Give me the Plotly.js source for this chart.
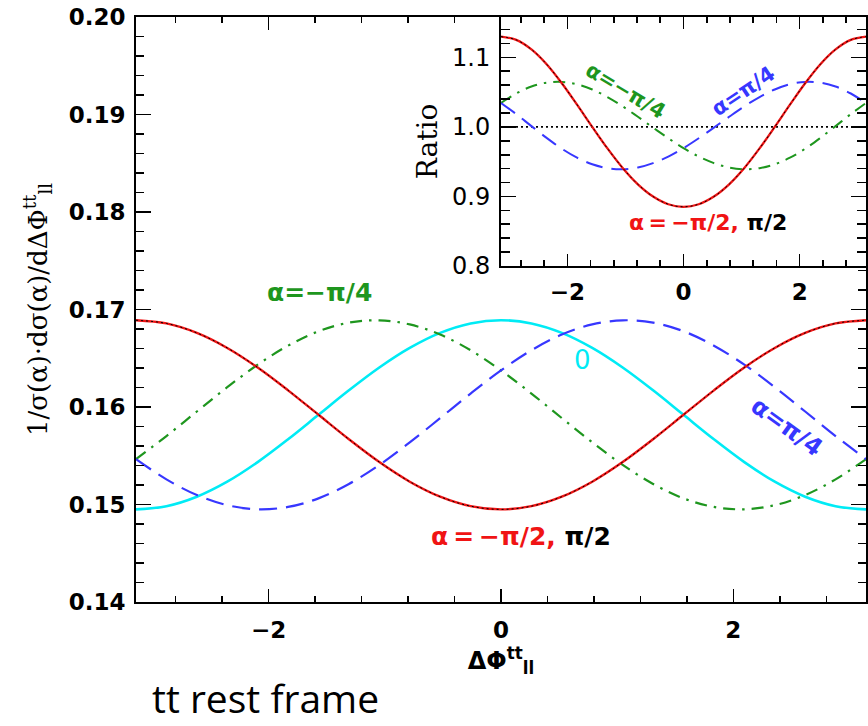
<!DOCTYPE html>
<html>
<head>
<meta charset="utf-8">
<script src="https://cdn.plot.ly/plotly-3.0.1.min.js"></script>
<style>html,body{margin:0;padding:0;background:#fff}</style>
</head>
<body>
<div id="chart" style="width:868px;height:726px"></div>
<script>
// Δφ values (radians) at which the curves were read
const dphi = [-3.1416,-2.8798,-2.6180,-2.3562,-2.0944,-1.8326,-1.5708,-1.3090,-1.0472,-0.7854,-0.5236,-0.2618,0,
              0.2618,0.5236,0.7854,1.0472,1.3090,1.5708,1.8326,2.0944,2.3562,2.6180,2.8798,3.1416];

// main panel: 1/σ dσ/dΔΦ
const alphaMinusPiHalf = [0.1689,0.16857,0.1676,0.16606,0.16405,0.16171,0.1592,0.15669,0.15435,0.15234,0.1508,0.14983,0.1495,
                          0.14983,0.1508,0.15234,0.15435,0.15669,0.1592,0.16171,0.16405,0.16606,0.1676,0.16857,0.1689];
const alphaPiHalf      = [0.1689,0.16857,0.1676,0.16606,0.16405,0.16171,0.1592,0.15669,0.15435,0.15234,0.1508,0.14983,0.1495,
                          0.14983,0.1508,0.15234,0.15435,0.15669,0.1592,0.16171,0.16405,0.16606,0.1676,0.16857,0.1689];
const alphaZero        = [0.1495,0.14983,0.1508,0.15234,0.15435,0.15669,0.1592,0.16171,0.16405,0.16606,0.1676,0.16857,0.1689,
                          0.16857,0.1676,0.16606,0.16405,0.16171,0.1592,0.15669,0.15435,0.15234,0.1508,0.14983,0.1495];
const alphaMinusPiQuarter = [0.15465,0.15702,0.15954,0.16203,0.16434,0.16629,0.16777,0.16865,0.16889,0.16847,0.16743,0.16582,0.16375,
                             0.16138,0.15886,0.15637,0.15406,0.15211,0.15063,0.14975,0.14951,0.14993,0.15097,0.15258,0.15465];
const alphaPiQuarter      = [0.15465,0.15258,0.15097,0.14993,0.14951,0.14975,0.15063,0.15211,0.15406,0.15637,0.15886,0.16138,0.16375,
                             0.16582,0.16743,0.16847,0.16889,0.16865,0.16777,0.16629,0.16434,0.16203,0.15954,0.15702,0.15465];

// inset: ratio to α = 0
const ratioMinusPiHalf = [1.1298,1.1251,1.1114,1.0901,1.0628,1.0320,1.0,0.9690,0.9409,0.9174,0.8998,0.8888,0.8851,
                          0.8888,0.8998,0.9174,0.9409,0.9690,1.0,1.0320,1.0628,1.0901,1.1114,1.1251,1.1298];
const ratioPiHalf      = [1.1298,1.1251,1.1114,1.0901,1.0628,1.0320,1.0,0.9690,0.9409,0.9174,0.8998,0.8888,0.8851,
                          0.8888,0.8998,0.9174,0.9409,0.9690,1.0,1.0320,1.0628,1.0901,1.1114,1.1251,1.1298];
const ratioMinusPiQuarter = [1.0344,1.0480,1.0580,1.0636,1.0647,1.0613,1.0538,1.0429,1.0295,1.0145,0.9990,0.9837,0.9695,
                             0.9573,0.9479,0.9416,0.9391,0.9406,0.9462,0.9557,0.9686,0.9842,1.0011,1.0184,1.0344];
const ratioPiQuarter      = [1.0344,1.0184,1.0011,0.9842,0.9686,0.9557,0.9462,0.9406,0.9391,0.9416,0.9479,0.9573,0.9695,
                             0.9837,0.9990,1.0145,1.0295,1.0429,1.0538,1.0613,1.0647,1.0636,1.0580,1.0480,1.0344];
const unityX = [-3.1416, 3.1416];
const unityY = [1.0, 1.0];

const RED = 'rgb(240,20,20)', CYAN = 'rgb(0,235,245)', GREEN = 'rgb(30,150,30)', BLUE = 'rgb(55,55,255)';

const traces = [
  {x:dphi, y:alphaZero, mode:'lines', line:{color:CYAN, width:2.6, shape:'spline'}},
  {x:dphi, y:alphaMinusPiQuarter, mode:'lines', line:{color:GREEN, width:2.2, dash:'12px,7px,2.5px,7px', shape:'spline'}},
  {x:dphi, y:alphaPiQuarter, mode:'lines', line:{color:BLUE, width:2.2, dash:'18px,9px', shape:'spline'}},
  {x:dphi, y:alphaMinusPiHalf, mode:'lines', line:{color:RED, width:2.4, shape:'spline'}},
  {x:dphi, y:alphaPiHalf, mode:'lines', line:{color:'black', width:1, dash:'2px,3px', shape:'spline'}},

  {x:unityX, y:unityY, xaxis:'x2', yaxis:'y2', mode:'lines', line:{color:'black', width:1.6, dash:'2px,3px'}},
  {x:dphi, y:ratioMinusPiQuarter, xaxis:'x2', yaxis:'y2', mode:'lines', line:{color:GREEN, width:2, dash:'12px,7px,2.5px,7px', shape:'spline'}},
  {x:dphi, y:ratioPiQuarter, xaxis:'x2', yaxis:'y2', mode:'lines', line:{color:BLUE, width:2, dash:'17px,9px', shape:'spline'}},
  {x:dphi, y:ratioMinusPiHalf, xaxis:'x2', yaxis:'y2', mode:'lines', line:{color:RED, width:2.3, shape:'spline'}},
  {x:dphi, y:ratioPiHalf, xaxis:'x2', yaxis:'y2', mode:'lines', line:{color:'black', width:1, dash:'2px,3px', shape:'spline'}}
];

const tickBold = {family:'DejaVu Sans', size:23, color:'black', weight:'bold'};
const axCommon = {showgrid:false, zeroline:false, showline:true, linecolor:'black', linewidth:2, automargin:false,
                  ticks:'inside', tickcolor:'black', tickwidth:1.6, mirror:'ticks', tickmode:'linear'};

const layout = {
  width:868, height:726,
  margin:{l:136, r:2, t:17, b:124, pad:0, autoexpand:false},
  paper_bgcolor:'#ffffff', plot_bgcolor:'#ffffff',
  showlegend:false,
  xaxis: Object.assign({}, axCommon, {
    domain:[0,1], anchor:'y', range:[-Math.PI, Math.PI], tick0:0, dtick:2, ticklen:13,
    tickfont:tickBold, ticklabelstandoff:6,
    minor:{tick0:0, dtick:0.4, ticklen:6, ticks:'inside', tickcolor:'black', tickwidth:1.6, showgrid:false},
    title:{text:'ΔΦ<sup>tt</sup><sub>ll</sub>', font:{family:'DejaVu Sans', size:24, color:'black', weight:'bold'}, standoff:4}
  }),
  yaxis: Object.assign({}, axCommon, {
    domain:[0,1], anchor:'x', range:[0.14, 0.20], tick0:0.14, dtick:0.01, tickformat:'.2f', ticklen:15,
    tickfont:tickBold, ticklabelstandoff:4,
    minor:{tick0:0.14, dtick:0.002, ticklen:8, ticks:'inside', tickcolor:'black', tickwidth:1.6, showgrid:false},
    title:{text:'1/σ(α)·dσ(α)/dΔΦ<sup>tt</sup><sub>ll</sub>', font:{family:'DejaVu Serif', size:26, color:'black'}, standoff:14}
  }),
  xaxis2: Object.assign({}, axCommon, {
    domain:[0.5,1], anchor:'y2', range:[-Math.PI, Math.PI], tick0:0, dtick:2, ticklen:12,
    tickfont:tickBold, ticklabelstandoff:4,
    minor:{tick0:0, dtick:0.4, ticklen:6, ticks:'inside', tickcolor:'black', tickwidth:1.6, showgrid:false}
  }),
  yaxis2: Object.assign({}, axCommon, {
    domain:[0.5744,1], anchor:'x2', range:[0.8, 1.158], tick0:0.8, dtick:0.1, tickformat:'.1f', ticklen:15,
    tickfont:{family:'DejaVu Sans', size:24, color:'black'}, ticklabelstandoff:4,
    minor:{tick0:0.8, dtick:0.02, ticklen:9, ticks:'inside', tickcolor:'black', tickwidth:1.6, showgrid:false},
    title:{text:'Ratio', font:{family:'DejaVu Serif', size:28, color:'black'}, standoff:6}
  }),
  annotations:[
    {xref:'x', yref:'y', x:-1.56, y:0.1717, text:'α=−π/4', showarrow:false,
     font:{family:'DejaVu Sans', size:25, color:GREEN, weight:'bold'}},
    {xref:'x', yref:'y', x:0.70, y:0.1648, text:'0', showarrow:false,
     font:{family:'DejaVu Sans', size:26, color:CYAN}},
    {xref:'x', yref:'y', x:2.46, y:0.1579, text:'α=π/4', showarrow:false, textangle:36,
     font:{family:'DejaVu Sans', size:24, color:BLUE, weight:'bold'}},
    {xref:'x', yref:'y', x:0.17, y:0.1467, showarrow:false,
     text:'<span style="color:'+RED+'">α\u2009=\u2009−π/2,</span> π/2',
     font:{family:'DejaVu Sans', size:25, color:'black', weight:'bold'}},

    {xref:'x2', yref:'y2', x:-0.99, y:1.051, text:'α=−π/4', showarrow:false, textangle:31,
     font:{family:'DejaVu Sans', size:21, color:GREEN, weight:'bold'}},
    {xref:'x2', yref:'y2', x:1.03, y:1.051, text:'α=π/4', showarrow:false, textangle:-34,
     font:{family:'DejaVu Sans', size:21, color:BLUE, weight:'bold'}},
    {xref:'x2', yref:'y2', x:0.42, y:0.863, showarrow:false,
     text:'<span style="color:'+RED+'">α\u2009=\u2009−π/2,</span> π/2',
     font:{family:'DejaVu Sans', size:22, color:'black', weight:'bold'}},

    {xref:'paper', yref:'paper', x:0.177, y:-0.2105, xanchor:'center', yanchor:'bottom', borderpad:0,
     text:'tt rest frame', showarrow:false,
     font:{family:'Open Sans', size:39, color:'black'}}
  ]
};

Plotly.newPlot('chart', traces, layout, {displayModeBar:false, staticPlot:true});
</script>
</body>
</html>
